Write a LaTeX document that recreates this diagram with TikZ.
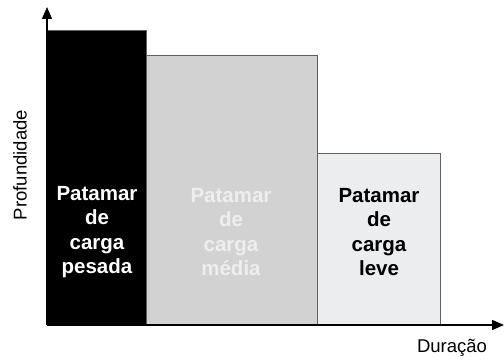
\documentclass[tikz,border=0pt]{standalone}
\usepackage{fontspec}
\setmainfont{Liberation Sans}
\usetikzlibrary{arrows.meta}
\definecolor{midgray}{HTML}{D2D2D2}
\definecolor{lightbar}{HTML}{ECEDEF}
\definecolor{edgegray}{HTML}{606060}
\definecolor{paletext}{HTML}{EEEEEE}
\begin{document}
\begin{tikzpicture}[x=1pt,y=1pt,
  bar/.style={draw=edgegray, line width=1pt, anchor=south west, inner sep=0pt},
  lbl/.style={font=\fontsize{20.5}{24.5}\selectfont\bfseries, align=center},
  axis/.style={line width=1.4pt, -{Triangle[length=12pt,width=10pt]}}]
\useasboundingbox (0,0) rectangle (504,363);
\node[bar, fill=black, minimum width=99pt, minimum height=294pt] (b1) at (47,38) {};
\node[bar, fill=midgray, minimum width=171pt, minimum height=269pt] (b2) at (146,38) {};
\node[bar, fill=lightbar, minimum width=123pt, minimum height=171pt] (b3) at (317,38) {};
\node[lbl, text=white] (t1) at (97,131) {Patamar\\de\\carga\\pesada};
\node[lbl, text=paletext] (t2) at (231,131) {Patamar\\de\\carga\\média};
\node[lbl, text=black] (t3) at (379,131) {Patamar\\de\\carga\\leve};
\coordinate (o) at (47,38);
\coordinate (ytip) at (47,356);
\coordinate (xtip) at (504,38);
\draw[axis] (o) -- (ytip);
\draw[axis] (o) -- (xtip);
\node[font=\fontsize{18.5}{22}\selectfont, rotate=90] (yl) at (20,198) {Profundidade};
\node[font=\fontsize{18.5}{22}\selectfont] (xl) at (452,15) {Duração};
\end{tikzpicture}
\end{document}
